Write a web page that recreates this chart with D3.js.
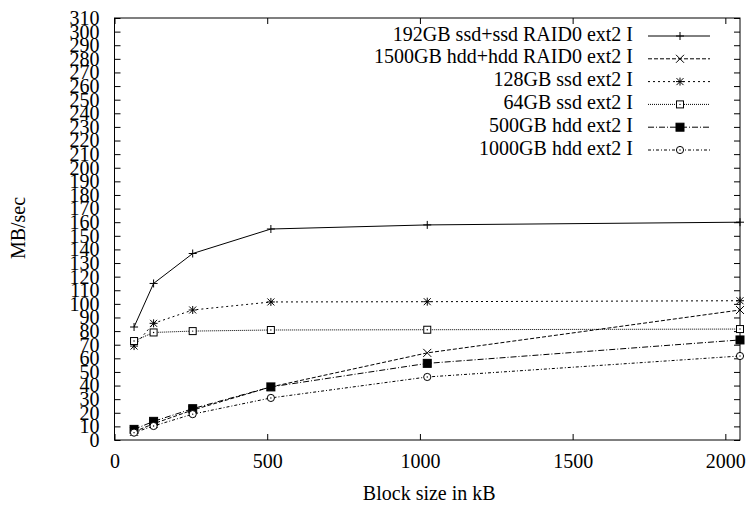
<!DOCTYPE html>
<html>
<head>
<meta charset="utf-8">
<script src="https://cdn.jsdelivr.net/npm/d3@7"></script>
<style>
  html, body { margin: 0; padding: 0; background: #fff; }
  svg { display: block; }
</style>
</head>
<body>
<svg id="chart" width="747" height="508"></svg>
<script>
// Block sizes tested (kB)
const blockSizes = [64, 128, 256, 512, 1024, 2048];

// Throughput per device (MB/sec)
const raidSsd192 = [83, 115, 137, 155, 158, 160];
const raidHdd1500 = [6, 12, 22, 39, 64, 95.5];
const ssd128 = [69, 85.7, 95.5, 101.4, 101.6, 102.3];
const ssd64 = [72.7, 79, 80, 80.8, 81, 81.5];
const hdd500 = [7.8, 13.7, 23, 39, 56.3, 73.5];
const hdd1000 = [5.4, 10.3, 19, 30.9, 46.3, 61.7];

const seriesNames = [
  "192GB ssd+ssd RAID0 ext2 I",
  "1500GB hdd+hdd RAID0 ext2 I",
  "128GB ssd ext2 I",
  "64GB ssd ext2 I",
  "500GB hdd ext2 I",
  "1000GB hdd ext2 I"
];
const seriesValues = [raidSsd192, raidHdd1500, ssd128, ssd64, hdd500, hdd1000];

const xTicks = [0, 500, 1000, 1500, 2000];
const yTicks = d3.range(0, 311, 10);

const xLabel = "Block size in kB";
const yLabel = "MB/sec";

// ---- layout & styling ----
const M = { left: 114.5, right: 740, top: 18, bottom: 440 };
const dashes = ["none", "4,2", "2,3", "1,1", "6,2,1,2", "3,2,1,2"];
const markerKinds = ["plus", "cross", "star", "box", "boxfill", "circle"];
const serif = "Liberation Serif";

const svg = d3.select("#chart");
const x = d3.scaleLinear().domain([0, 2048]).range([M.left, M.right]);
const y = d3.scaleLinear().domain([0, 310]).range([M.bottom, M.top]);

const fontSize = 20;
const tickLen = 6;

// axes with inward ticks on all four sides
const axBottom = d3.axisBottom(x).tickValues(xTicks).tickSize(-tickLen).tickPadding(14).tickFormat(d3.format("d"));
const axTop = d3.axisTop(x).tickValues(xTicks).tickSize(-tickLen).tickFormat("");
const axLeft = d3.axisLeft(y).tickValues(yTicks).tickSize(-tickLen).tickPadding(15).tickFormat(d3.format("d"));
const axRight = d3.axisRight(y).tickValues(yTicks).tickSize(-tickLen).tickFormat("");

function styleAxis(g) {
  g.attr("font-family", serif).attr("font-size", fontSize);
  g.select(".domain").remove();
  g.selectAll(".tick line").attr("stroke", "#000").attr("stroke-width", 1);
  g.selectAll(".tick text").attr("fill", "#000");
}

svg.append("g").attr("transform", `translate(0,${M.bottom})`).call(axBottom).call(styleAxis);
svg.append("g").attr("transform", `translate(0,${M.top})`).call(axTop).call(styleAxis);
svg.append("g").attr("transform", `translate(${M.left},0)`).call(axLeft).call(styleAxis);
svg.append("g").attr("transform", `translate(${M.right},0)`).call(axRight).call(styleAxis);

// frame
svg.append("rect")
  .attr("x", M.left).attr("y", M.top)
  .attr("width", M.right - M.left).attr("height", M.bottom - M.top)
  .attr("fill", "none").attr("stroke", "#000").attr("stroke-width", 1);

// axis titles
svg.append("text")
  .attr("x", (M.left + M.right) / 2 + 2).attr("y", 495)
  .attr("text-anchor", "middle").attr("dominant-baseline", "middle")
  .attr("font-family", serif)
  .attr("font-size", fontSize).text(xLabel);
svg.append("text")
  .attr("transform", `translate(20,228) rotate(-90)`)
  .attr("text-anchor", "middle").attr("dominant-baseline", "middle")
  .attr("font-family", serif)
  .attr("font-size", fontSize).text(yLabel);

// point symbols
function drawMarker(g, kind, cx, cy) {
  const s = 4;
  if (kind === "plus" || kind === "star") {
    g.append("path").attr("d", `M${cx - s},${cy}H${cx + s}M${cx},${cy - s}V${cy + s}`)
      .attr("stroke", "#000").attr("fill", "none");
  }
  if (kind === "cross" || kind === "star") {
    const c = kind === "star" ? 3.5 : 4;
    g.append("path").attr("d", `M${cx - c},${cy - c}L${cx + c},${cy + c}M${cx - c},${cy + c}L${cx + c},${cy - c}`)
      .attr("stroke", "#000").attr("fill", "none");
  }
  if (kind === "box" || kind === "boxfill") {
    const b = kind === "boxfill" ? 4 : 3.5;
    g.append("rect").attr("x", cx - b).attr("y", cy - b).attr("width", 2 * b).attr("height", 2 * b)
      .attr("fill", kind === "boxfill" ? "#000" : "#fff").attr("stroke", "#000");
    if (kind === "box") {
      g.append("circle").attr("cx", cx).attr("cy", cy).attr("r", 0.7).attr("fill", "#000");
    }
  }
  if (kind === "circle") {
    g.append("circle").attr("cx", cx).attr("cy", cy).attr("r", 3.6)
      .attr("fill", "#fff").attr("stroke", "#000");
    g.append("circle").attr("cx", cx).attr("cy", cy).attr("r", 0.7).attr("fill", "#000");
  }
}

const line = d3.line().x(d => x(d[0])).y(d => y(d[1]));

seriesValues.forEach((vals, i) => {
  const pts = blockSizes.map((b, j) => [b, vals[j]]);
  const g = svg.append("g");
  g.append("path")
    .attr("d", line(pts))
    .attr("fill", "none").attr("stroke", "#000").attr("stroke-width", 1)
    .attr("stroke-dasharray", dashes[i]);
  pts.forEach(p => drawMarker(g, markerKinds[i], x(p[0]), y(p[1])));
});

// key
const keyTextX = 633, keyLineX0 = 648, keyLineX1 = 710, keyY0 = 36, keyStep = 22.8;
seriesNames.forEach((name, i) => {
  const ky = keyY0 + i * keyStep;
  const g = svg.append("g");
  g.append("text").attr("x", keyTextX).attr("y", ky)
    .attr("text-anchor", "end").attr("dominant-baseline", "middle")
    .attr("font-family", serif)
    .attr("font-size", fontSize).text(name);
  g.append("line").attr("x1", keyLineX0).attr("x2", keyLineX1).attr("y1", ky).attr("y2", ky)
    .attr("stroke", "#000").attr("stroke-width", 1).attr("stroke-dasharray", dashes[i]);
  drawMarker(g, markerKinds[i], (keyLineX0 + keyLineX1) / 2 + 1, ky);
});
</script>
</body>
</html>
